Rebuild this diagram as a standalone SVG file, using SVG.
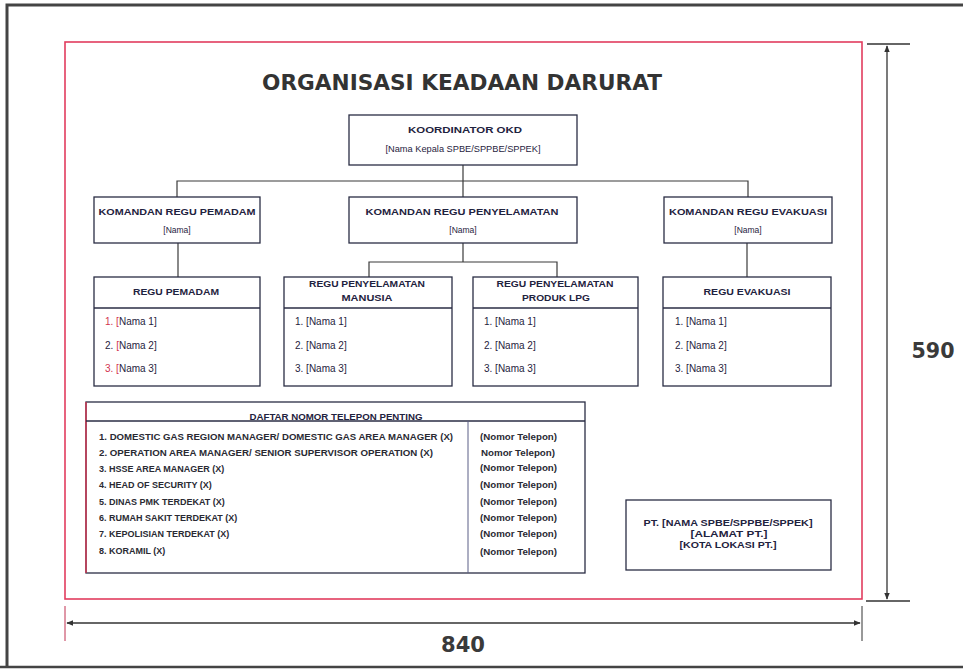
<svg xmlns="http://www.w3.org/2000/svg" width="963" height="671" viewBox="0 0 963 671">
<style>
.box{fill:#fff;stroke:#2a2d44;stroke-width:1.3}
.ln{fill:none;stroke:#3a3a3a;stroke-width:1.2}
.hd{font-family:"Liberation Sans",Arial,sans-serif;font-weight:bold;font-size:8.5px;fill:#1f2340;text-anchor:middle}
.nm{font-family:"Liberation Sans",Arial,sans-serif;font-size:8.5px;fill:#1f2340;text-anchor:middle}
.it{font-family:"Liberation Sans",Arial,sans-serif;font-size:10px;fill:#1f2340}
.tl{font-family:"Liberation Sans",Arial,sans-serif;font-weight:bold;font-size:9px;fill:#2a2a33}
.red{fill:#d2334f}
.dim{fill:none;stroke:#333;stroke-width:1.3}
.dimt{font-family:"DejaVu Sans",sans-serif;font-weight:bold;font-size:21px;fill:#3a3a3a;text-anchor:middle}
</style>
<defs>
<marker id="ar" viewBox="0 0 10 10" refX="9" refY="5" markerWidth="7" markerHeight="7" orient="auto-start-reverse" markerUnits="userSpaceOnUse">
<path d="M0,1 L10,5 L0,9 z" fill="#333"/>
</marker>
</defs>
<rect width="963" height="671" fill="#fff"/>
<g id="frame">
<path d="M7,668 L7,5 L963,5" fill="none" stroke="#444" stroke-width="3"/>
<path d="M0,667 L963,667" fill="none" stroke="#444" stroke-width="2.5"/>
<rect x="65" y="42" width="797" height="557" fill="none" stroke="#e23c5e" stroke-width="1.6"/>
</g>
<g id="dimensions">
<line x1="65" y1="606" x2="65" y2="641" stroke="#c03050" stroke-width="1"/>
<line x1="862" y1="606" x2="862" y2="641" stroke="#333" stroke-width="1"/>
<line x1="67" y1="623" x2="860" y2="623" class="dim" marker-start="url(#ar)" marker-end="url(#ar)"/>
<text x="463" y="652" class="dimt" font-family="Liberation Sans Narrow, Liberation Sans, sans-serif" font-size="24" textLength="44" lengthAdjust="spacingAndGlyphs">840</text>
<line x1="867" y1="44" x2="910" y2="44" class="dim"/>
<line x1="866" y1="601" x2="910" y2="601" class="dim"/>
<line x1="887" y1="46" x2="887" y2="599" class="dim" marker-start="url(#ar)" marker-end="url(#ar)"/>
<text x="933" y="358" class="dimt" textLength="43" lengthAdjust="spacingAndGlyphs">590</text>
</g>
<text x="462" y="90" font-family="DejaVu Sans,sans-serif" font-weight="bold" font-size="22" fill="#333" text-anchor="middle" textLength="400" lengthAdjust="spacingAndGlyphs">ORGANISASI KEADAAN DARURAT</text>
<g id="connectors" class="ln">
<path d="M463,165 L463,197"/>
<path d="M177,197 L177,181 L748,181 L748,197"/>
<path d="M178,243 L178,277"/>
<path d="M463,243 L463,262"/>
<path d="M369,277 L369,262 L557,262 L557,277"/>
<path d="M747,243 L747,277"/>
</g>
<g id="koordinator">
<rect x="349" y="115" width="228" height="50" class="box"/>
<text x="465" y="133" class="hd" textLength="114" lengthAdjust="spacingAndGlyphs">KOORDINATOR OKD</text>
<text x="463" y="152" class="nm" textLength="155" lengthAdjust="spacingAndGlyphs">[Nama Kepala SPBE/SPPBE/SPPEK]</text>
</g>
<g id="komandan-pemadam">
<rect x="94" y="197" width="166" height="46" class="box"/>
<text x="177" y="215" class="hd" textLength="157" lengthAdjust="spacingAndGlyphs">KOMANDAN REGU PEMADAM</text>
<text x="177" y="233" class="nm">[Nama]</text>
</g>
<g id="komandan-penyelamatan">
<rect x="349" y="197" width="228" height="46" class="box"/>
<text x="462" y="215" class="hd" textLength="193" lengthAdjust="spacingAndGlyphs">KOMANDAN REGU PENYELAMATAN</text>
<text x="463" y="233" class="nm">[Nama]</text>
</g>
<g id="komandan-evakuasi">
<rect x="664" y="197" width="168" height="46" class="box"/>
<text x="748" y="215" class="hd" textLength="158" lengthAdjust="spacingAndGlyphs">KOMANDAN REGU EVAKUASI</text>
<text x="748" y="233" class="nm">[Nama]</text>
</g>
<g id="regu-pemadam">
<rect x="94" y="277" width="166" height="109" class="box"/>
<line x1="94" y1="308" x2="260" y2="308" class="box"/>
<text x="176" y="295" class="hd" textLength="86" lengthAdjust="spacingAndGlyphs">REGU PEMADAM</text>
<text x="105" y="325" class="it"><tspan class="red">1. [</tspan>Nama 1]</text>
<text x="105" y="349" class="it">2. <tspan class="red">[</tspan>Nama 2]</text>
<text x="105" y="372" class="it"><tspan class="red">3. [</tspan>Nama 3]</text>
</g>
<g id="regu-penyelamatan-manusia">
<rect x="284" y="277" width="168" height="109" class="box"/>
<line x1="284" y1="308" x2="452" y2="308" class="box"/>
<text x="367" y="287" class="hd" textLength="116" lengthAdjust="spacingAndGlyphs">REGU PENYELAMATAN</text>
<text x="367" y="301" class="hd" textLength="51" lengthAdjust="spacingAndGlyphs">MANUSIA</text>
<text x="295" y="325" class="it">1. [Nama 1]</text>
<text x="295" y="349" class="it">2. [Nama 2]</text>
<text x="295" y="372" class="it">3. [Nama 3]</text>
</g>
<g id="regu-penyelamatan-produk">
<rect x="473" y="277" width="165" height="109" class="box"/>
<line x1="473" y1="308" x2="638" y2="308" class="box"/>
<text x="555" y="287" class="hd" textLength="117" lengthAdjust="spacingAndGlyphs">REGU PENYELAMATAN</text>
<text x="556" y="301" class="hd" textLength="68" lengthAdjust="spacingAndGlyphs">PRODUK LPG</text>
<text x="484" y="325" class="it">1. [Nama 1]</text>
<text x="484" y="349" class="it">2. [Nama 2]</text>
<text x="484" y="372" class="it">3. [Nama 3]</text>
</g>
<g id="regu-evakuasi">
<rect x="663" y="277" width="168" height="109" class="box"/>
<line x1="663" y1="308" x2="831" y2="308" class="box"/>
<text x="747" y="295" class="hd" textLength="87" lengthAdjust="spacingAndGlyphs">REGU EVAKUASI</text>
<text x="675" y="325" class="it">1. [Nama 1]</text>
<text x="675" y="349" class="it">2. [Nama 2]</text>
<text x="675" y="372" class="it">3. [Nama 3]</text>
</g>
<g id="daftar-telepon">
<rect x="86" y="402" width="499" height="171" class="box"/>
<line x1="86" y1="402" x2="86" y2="573" stroke="#d2334f" stroke-width="1.4"/>
<line x1="86" y1="421" x2="585" y2="421" class="box"/>
<line x1="468" y1="421" x2="468" y2="573" stroke="#5a5f86" stroke-width="1"/>
<text x="336" y="420" class="hd" textLength="173" lengthAdjust="spacingAndGlyphs" font-size="8">DAFTAR NOMOR TELEPON PENTING</text>
<text x="99" y="440" class="tl" textLength="354" lengthAdjust="spacingAndGlyphs">1. DOMESTIC GAS REGION MANAGER/ DOMESTIC GAS AREA MANAGER (X)</text>
<text x="99" y="456" class="tl" textLength="334" lengthAdjust="spacingAndGlyphs">2. OPERATION AREA MANAGER/ SENIOR SUPERVISOR OPERATION (X)</text>
<text x="99" y="472" class="tl">3. HSSE AREA MANAGER (X)</text>
<text x="99" y="488" class="tl">4. HEAD OF SECURITY (X)</text>
<text x="99" y="505" class="tl">5. DINAS PMK TERDEKAT (X)</text>
<text x="99" y="521" class="tl">6. RUMAH SAKIT TERDEKAT (X)</text>
<text x="99" y="537" class="tl">7. KEPOLISIAN TERDEKAT (X)</text>
<text x="99" y="554" class="tl">8. KORAMIL (X)</text>
<text x="480" y="440" class="tl" textLength="77" lengthAdjust="spacingAndGlyphs">(Nomor Telepon)</text>
<text x="481" y="456" class="tl" textLength="74" lengthAdjust="spacingAndGlyphs">Nomor Telepon)</text>
<text x="480" y="471" class="tl" textLength="77" lengthAdjust="spacingAndGlyphs">(Nomor Telepon)</text>
<text x="480" y="488" class="tl" textLength="77" lengthAdjust="spacingAndGlyphs">(Nomor Telepon)</text>
<text x="480" y="505" class="tl" textLength="77" lengthAdjust="spacingAndGlyphs">(Nomor Telepon)</text>
<text x="480" y="521" class="tl" textLength="77" lengthAdjust="spacingAndGlyphs">(Nomor Telepon)</text>
<text x="480" y="537" class="tl" textLength="77" lengthAdjust="spacingAndGlyphs">(Nomor Telepon)</text>
<text x="480" y="555" class="tl" textLength="77" lengthAdjust="spacingAndGlyphs">(Nomor Telepon)</text>
</g>
<g id="pt-info">
<rect x="626" y="500" width="205" height="70" class="box"/>
<text x="728" y="526" class="hd" textLength="169" lengthAdjust="spacingAndGlyphs">PT. [NAMA SPBE/SPPBE/SPPEK]</text>
<text x="729" y="537" class="hd" textLength="77" lengthAdjust="spacingAndGlyphs">[ALAMAT PT.]</text>
<text x="728" y="548" class="hd" textLength="97" lengthAdjust="spacingAndGlyphs">[KOTA LOKASI PT.]</text>
</g>
</svg>
